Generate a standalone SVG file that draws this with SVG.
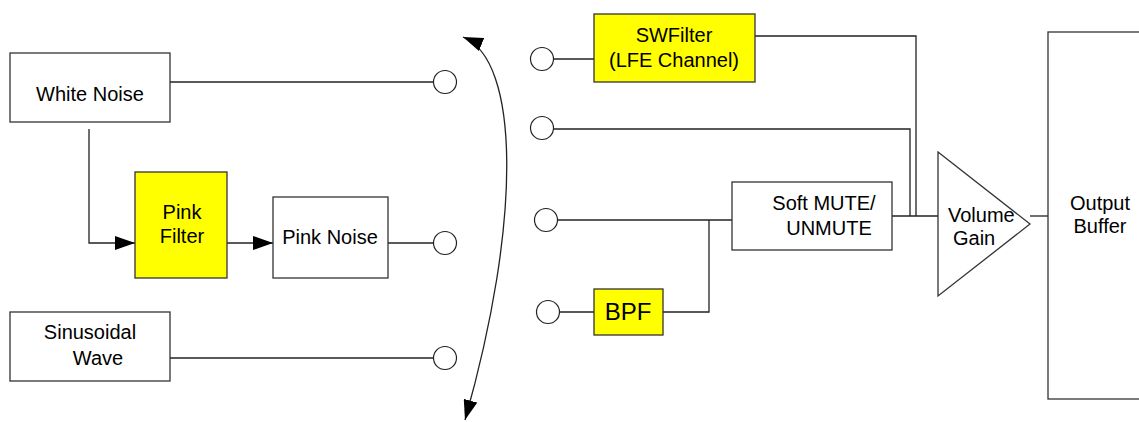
<svg xmlns="http://www.w3.org/2000/svg" width="1139" height="422" viewBox="0 0 1139 422">
<style>
.box{fill:#fff;stroke:#333;stroke-width:1.3}
.yel{fill:#ffff00;stroke:#333;stroke-width:1.3}
.port{fill:#fff;stroke:#222;stroke-width:1.2}
.ln{fill:none;stroke:#222;stroke-width:1.3}
text{font-family:"Liberation Sans",Arial,sans-serif;font-size:20px;fill:#000}
.m{text-anchor:middle}
</style>
<defs>
<marker id="ah" markerWidth="20" markerHeight="14" refX="20" refY="7" orient="auto-start-reverse" markerUnits="userSpaceOnUse">
<path d="M0,0 L20,7 L0,14 Z" fill="#000"/>
</marker>
</defs>
<rect width="1139" height="422" fill="#fff"/>
<g id="connectors">
<line class="ln" x1="170" y1="82" x2="434" y2="82"/>
<polyline class="ln" points="89,129 89,243 135,243" marker-end="url(#ah)"/>
<line class="ln" x1="227" y1="243" x2="273" y2="243" marker-end="url(#ah)"/>
<line class="ln" x1="388" y1="243" x2="434" y2="243"/>
<line class="ln" x1="170" y1="358" x2="434" y2="358"/>
<line class="ln" x1="548" y1="59" x2="594" y2="59"/>
<polyline class="ln" points="755,36 916,36 916,216"/>
<polyline class="ln" points="554,129 910,129 910,216"/>
<line class="ln" x1="557" y1="220" x2="732" y2="220"/>
<polyline class="ln" points="663,312 709,312 709,220"/>
<line class="ln" x1="559" y1="312" x2="594" y2="312"/>
<line class="ln" x1="892" y1="216" x2="938" y2="216"/>
<line class="ln" x1="1030" y1="216" x2="1048" y2="216"/>
<path class="ln" d="M463,37 C520,60 522,220 465,420" marker-start="url(#ah)" marker-end="url(#ah)"/>
</g>
<g id="ports">
<circle class="port" cx="445" cy="82" r="11.5"/>
<circle class="port" cx="445" cy="243" r="11.5"/>
<circle class="port" cx="445" cy="358" r="11.5"/>
<circle class="port" cx="542" cy="59" r="11.5"/>
<circle class="port" cx="542" cy="128" r="11.5"/>
<circle class="port" cx="546" cy="220" r="11.5"/>
<circle class="port" cx="548" cy="312" r="11.5"/>
</g>
<g id="white-noise">
<rect class="box" x="10" y="53" width="160" height="69"/>
<text class="m" x="90" y="101">White Noise</text>
</g>
<g id="pink-filter">
<rect class="yel" x="135" y="172" width="92" height="106"/>
<text class="m" x="182" y="219">Pink</text>
<text class="m" x="182" y="243">Filter</text>
</g>
<g id="pink-noise">
<rect class="box" x="273" y="197" width="115" height="81"/>
<text class="m" x="330" y="244">Pink Noise</text>
</g>
<g id="sinusoidal-wave">
<rect class="box" x="10" y="312" width="160" height="69"/>
<text class="m" x="90" y="339">Sinusoidal</text>
<text class="m" x="98" y="365">Wave</text>
</g>
<g id="swfilter">
<rect class="yel" x="594" y="14" width="161" height="68"/>
<text class="m" x="674" y="42">SWFilter</text>
<text class="m" x="674" y="67">(LFE Channel)</text>
</g>
<g id="bpf">
<rect class="yel" x="594" y="289" width="69" height="46"/>
<text class="m" x="628" y="320" style="font-size:24px">BPF</text>
</g>
<g id="soft-mute">
<rect class="box" x="732" y="182" width="160" height="68"/>
<text class="m" x="824" y="210">Soft MUTE/</text>
<text class="m" x="829" y="235">UNMUTE</text>
</g>
<g id="volume-gain">
<polygon class="box" points="938,152 1030,224 938,296"/>
<text x="948" y="222">Volume</text>
<text x="953" y="245">Gain</text>
</g>
<g id="output-buffer">
<rect class="box" x="1048" y="32" width="100" height="367"/>
<text class="m" x="1100" y="210">Output</text>
<text class="m" x="1100" y="233">Buffer</text>
</g>
</svg>
